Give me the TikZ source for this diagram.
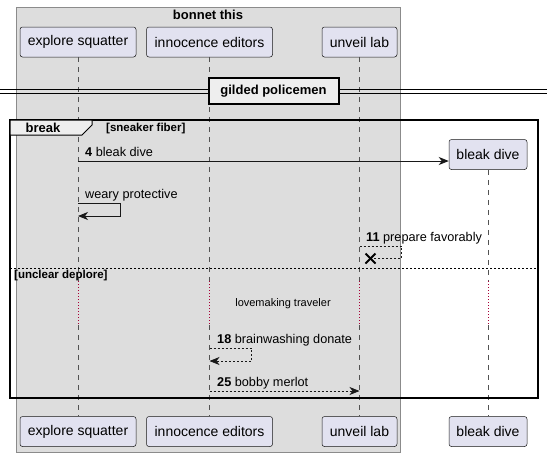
\documentclass[tikz,border=0pt]{standalone}
\usepackage{fontspec}
\setmainfont{Liberation Sans}
\usetikzlibrary{arrows.meta}
\definecolor{boxgray}{HTML}{DDDDDD}
\definecolor{partfill}{HTML}{E2E2F0}
\definecolor{tabfill}{HTML}{EEEEEE}
\definecolor{delayred}{HTML}{A80036}
\definecolor{linegray}{HTML}{181818}

\begin{document}
\begin{tikzpicture}[x=1pt, y=-1pt,
			participant/.style={rectangle, rounded corners=2.5pt, draw=linegray, fill=partfill, line width=0.5pt, minimum height=30pt, inner sep=0pt, font=\fontsize{14}{16}\selectfont},
			lifeline/.style={draw=linegray!75, line width=0.5pt, dash pattern=on 5pt off 5pt},
			delayline/.style={draw=delayred, line width=0.9pt, dash pattern=on 1pt off 2pt},
			msgtext/.style={anchor=base west, inner sep=0pt, font=\fontsize{12.7}{15}\selectfont},
			headtext/.style={inner sep=0pt, font=\fontsize{11.5}{13}\selectfont\bfseries},
			msgline/.style={draw=linegray, line width=0.8pt, -{Stealth[length=10pt, width=8pt, inset=3pt]}},
			msgreply/.style={msgline, dash pattern=on 2pt off 2pt},
			]
			\useasboundingbox (0,0) rectangle (553,456);
			%Box
				\draw[fill=boxgray, draw=linegray!50, line width=0.5pt] (16,7) rectangle (400.5,452);
				\node[headtext, font=\fontsize{13}{15}\selectfont\bfseries]	(boxtitle)	at (208,15)	{bonnet this};

			%Nodes
				% top participants
				\node[participant, minimum width=116pt]	(squatTop)	at (78,42)		{explore squatter};
				\node[participant, minimum width=126pt]	(editTop)	at (209.5,42)	{innocence editors};
				\node[participant, minimum width=75pt]	(labTop)	at (359.5,42)	{unveil lab};
				\node[participant, minimum width=78pt]	(diveTop)	at (488,154.5)	{bleak dive};
				% bottom participants
				\node[participant, minimum width=116pt]	(squatBot)	at (78,431.5)	{explore squatter};
				\node[participant, minimum width=126pt]	(editBot)	at (209.5,431.5)	{innocence editors};
				\node[participant, minimum width=75pt]	(labBot)	at (359.5,431.5)	{unveil lab};
				\node[participant, minimum width=78pt]	(diveBot)	at (488,431.5)	{bleak dive};
				% delay points
				\coordinate	(squatDelayA)	at (78,281);
				\coordinate	(squatDelayB)	at (78,325);
				\coordinate	(editDelayA)	at (209.5,281);
				\coordinate	(editDelayB)	at (209.5,325);
				\coordinate	(labDelayA)		at (359.5,281);
				\coordinate	(labDelayB)		at (359.5,325);
				\coordinate	(diveDelayA)	at (488,281);
				\coordinate	(diveDelayB)	at (488,325);

			%Lines
				% lifelines
				\draw[lifeline] (squatTop) -- (squatDelayA);
				\draw[lifeline] (squatDelayB) -- (squatBot);
				\draw[lifeline] (editTop) -- (editDelayA);
				\draw[lifeline] (editDelayB) -- (editBot);
				\draw[lifeline] (labTop) -- (labDelayA);
				\draw[lifeline] (labDelayB) -- (labBot);
				\draw[lifeline] (diveTop) -- (diveDelayA);
				\draw[lifeline] (diveDelayB) -- (diveBot);
				% delay
				\draw[delayline] (squatDelayA) -- (squatDelayB);
				\draw[delayline] (editDelayA) -- (editDelayB);
				\draw[delayline] (labDelayA) -- (labDelayB);
				\draw[delayline] (diveDelayA) -- (diveDelayB);
				\node[inner sep=0pt, font=\fontsize{11}{13}\selectfont]	(delay)	at (283,304)	{lovemaking traveler};

			%Divider
				\draw[line width=0.8pt] (0,89) -- (547,89);
				\draw[line width=0.8pt] (0,93) -- (547,93);
				\node[draw, line width=2pt, fill=tabfill, minimum width=130pt, minimum height=26pt, inner sep=0pt, font=\fontsize{13}{15}\selectfont\bfseries]	(divider)	at (273.5,91)	{gilded policemen};

			%Frame
				\draw[line width=1.5pt] (10,120) rectangle (538,398);
				\draw[fill=tabfill, line width=1pt] (10,120) -- (92,120) -- (92,125) -- (82,135) -- (10,135) -- cycle;
				\node[headtext, font=\fontsize{13}{15}\selectfont\bfseries]	(breaklabel)	at (43,128)	{break};
				\node[headtext, anchor=west]	(guard1)	at (106,129)	{[sneaker fiber]};
				\draw[line width=0.8pt, dash pattern=on 2pt off 2pt] (10,268) -- (538,268);
				\node[headtext, anchor=west]	(guard2)	at (14,276)	{[unclear deplore]};

			%Messages
				% 4
				\coordinate	(m4)	at (78,161);
				\draw[msgline] (m4) -- (m4 -| diveTop.west);
				\node[msgtext]	(t4)	at (85,156)	{\textbf{4} bleak dive};
				% weary protective
				\coordinate	(mw)	at (78,203);
				\draw[msgline] (mw) -- ++(42,0) -- ++(0,13) -- (mw |- 0,216);
				\node[msgtext]	(tw)	at (85,198)	{weary protective};
				% 11
				\coordinate	(m11)	at (359.5,246);
				\coordinate	(x11)	at (370.5,258.5);
				\draw[draw=linegray, line width=0.8pt, dash pattern=on 2pt off 2pt] (m11) -- ++(42,0) -- ++(0,12.5) -- (x11);
				\draw[line width=2pt] (x11) ++(-5,-5) -- ++(10,10);
				\draw[line width=2pt] (x11) ++(-5,5) -- ++(10,-10);
				\node[msgtext]	(t11)	at (366,241)	{\textbf{11} prepare favorably};
				% 18
				\coordinate	(m18)	at (209.5,348);
				\draw[msgreply] (m18) -- ++(42,0) -- ++(0,13) -- (m18 |- 0,361);
				\node[msgtext]	(t18)	at (217,343)	{\textbf{18} brainwashing donate};
				% 25
				\coordinate	(m25)	at (209.5,391);
				\draw[msgreply] (m25) -- (m25 -| labTop);
				\node[msgtext]	(t25)	at (217,386)	{\textbf{25} bobby merlot};
		\end{tikzpicture}
\end{document}
